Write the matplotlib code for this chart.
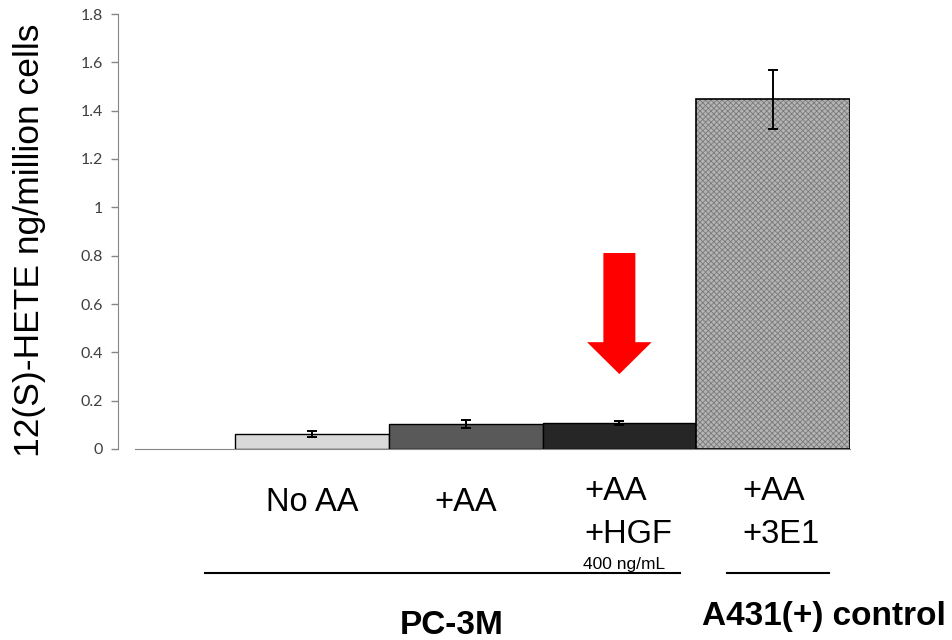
import matplotlib
matplotlib.use("Agg")
import matplotlib.pyplot as plt
from matplotlib.patches import FancyArrow
from matplotlib import font_manager as fm

W, H = 952, 640
fig = plt.figure(figsize=(W / 100, H / 100), dpi=100)

# ---- data ----
categories = ["No AA", "+AA", "+AA\n+HGF", "+AA\n+3E1"]
values = [0.062, 0.103, 0.108, 1.448]
errors = [0.011, 0.015, 0.008, 0.122]
colors = ["#d9d9d9", "#595959", "#262626", "#b4b4b4"]
hatched = [False, False, False, True]
yticks = [0, 0.2, 0.4, 0.6, 0.8, 1, 1.2, 1.4, 1.6, 1.8]
ytick_labels = ["0", "0.2", "0.4", "0.6", "0.8", "1", "1.2", "1.4", "1.6", "1.8"]
ylabel = "12(S)-HETE ng/million cells"
group_labels = ["PC-3M", "A431(+) control"]
dose_note = "400 ng/mL"
arrow_top, arrow_tip = 0.811, 0.31

names = {f.name for f in fm.fontManager.ttflist}
arial = "Liberation Sans Narrow" if "Liberation Sans Narrow" in names else "Liberation Sans"
tickfont = "Lato"

def px(x, y):
    return x / W, 1 - y / H

ax = fig.add_axes([118 / W, 1 - 449 / H, (850 - 118) / W, (449 - 14) / H])
x = list(range(len(values)))

plt.rcParams["hatch.linewidth"] = 0.6
plt.rcParams["hatch.color"] = "#7a7a7a"
for i, (v, c, h) in enumerate(zip(values, colors, hatched)):
    if h:
        ax.bar(i, v, width=1.0, color=c, hatch="xxxxxx", edgecolor="#7a7a7a",
               linewidth=0, zorder=2)
        ax.bar(i, v, width=1.0, color="none", edgecolor="black", linewidth=1.2, zorder=3)
    else:
        ax.bar(i, v, width=1.0, color=c, edgecolor="black", linewidth=1.0, zorder=2)
ax.errorbar(x, values, yerr=errors, fmt="none", ecolor="black", elinewidth=1.4,
            capsize=3.5, capthick=1.4, zorder=4)

ax.set_ylim(0, 1.8)
ax.set_xlim(-1.261, 3.5)
ax.set_yticks(yticks)
ax.set_yticklabels(ytick_labels, fontfamily=tickfont, fontsize=11.5, color="#404040")
ax.tick_params(axis="y", direction="out", length=5, width=1, color="#868686", pad=6)
ax.set_xticks([])
for s in ["top", "right"]:
    ax.spines[s].set_visible(False)
ax.spines["left"].set_color("#868686")
ax.spines["bottom"].set_color("#868686")
ax.spines["bottom"].set_bounds(-1.15, 3.5)
ax.spines["bottom"].set_zorder(1)

# red arrow
ax.add_patch(FancyArrow(2, arrow_top, 0, arrow_tip - arrow_top, width=0.208,
                        head_width=0.42, head_length=0.132,
                        length_includes_head=True, color="#ff0000", lw=0, zorder=5))

# y label
fig.text(*px(30, 240), ylabel, rotation=90, ha="center", va="center",
         fontsize=25.5, fontfamily="Liberation Sans", color="black")

# category labels
xt = ax.get_xaxis_transform()
def afrac(p):
    return (449 - p) / 435
ax.text(0, afrac(511), categories[0], ha="center", va="baseline", transform=xt,
        fontsize=23.5, fontfamily=arial, clip_on=False)
ax.text(1, afrac(511), categories[1], ha="center", va="baseline", transform=xt,
        fontsize=23.5, fontfamily=arial, clip_on=False)
for i, xl in [(2, 584), (3, 742)]:
    l1, l2 = categories[i].split("\n")
    fig.text(*px(xl, 500), l1, ha="left", va="baseline", fontsize=23.5, fontfamily=arial)
    fig.text(*px(xl, 543), l2, ha="left", va="baseline", fontsize=23.5, fontfamily=arial)
fig.text(*px(583, 569), dose_note, ha="left", va="baseline", fontsize=12.5, fontfamily=arial)

# group lines
fig.add_artist(plt.Line2D([205 / W, 680 / W], [1 - 573 / H] * 2, color="black", lw=1.5))
fig.add_artist(plt.Line2D([727 / W, 829 / W], [1 - 573 / H] * 2, color="black", lw=1.5))

fig.text(*px(452, 634), group_labels[0], ha="center", va="baseline", fontsize=24,
         fontweight="bold", fontfamily=arial)
fig.text(*px(824, 625), group_labels[1], ha="center", va="baseline", fontsize=24,
         fontweight="bold", fontfamily=arial)

fig.savefig("out.png", dpi=100, facecolor="white")
